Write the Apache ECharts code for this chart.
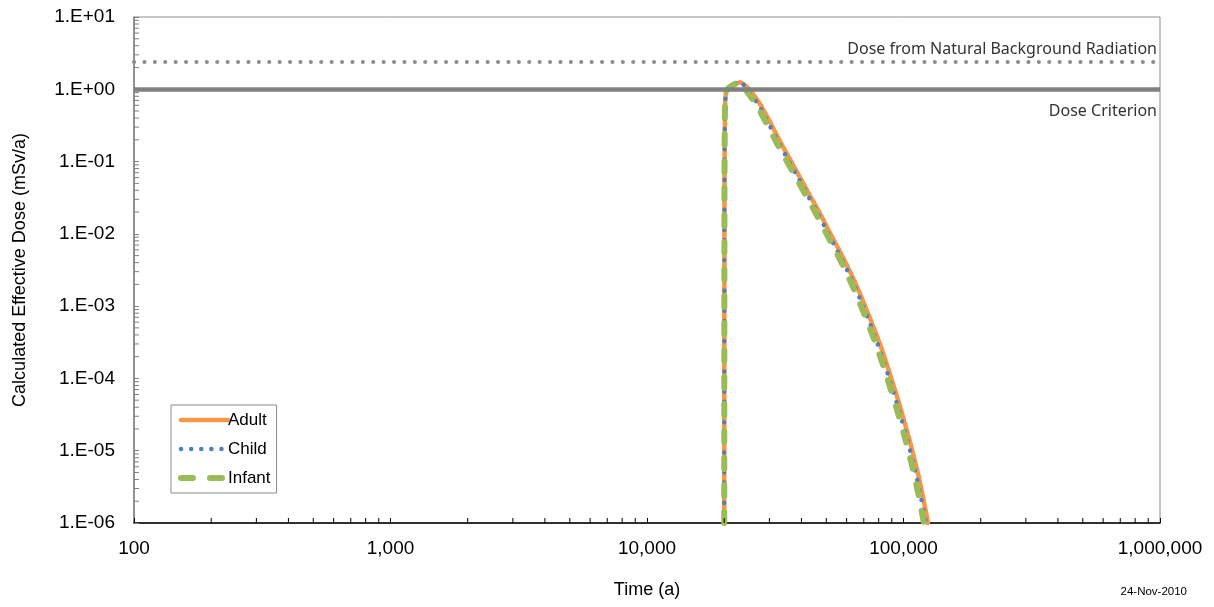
<!DOCTYPE html>
<html>
<head>
<meta charset="utf-8">
<script src="https://cdn.jsdelivr.net/npm/echarts@6/dist/echarts.min.js"></script>
<style>
  html, body { margin: 0; padding: 0; background: #fff; }
  #chart { width: 1214px; height: 607px; }
</style>
</head>
<body>
<div id="chart"></div>
<script>
// values
const adultTime = [20000, 20050, 20150, 20400, 21000, 22000, 23000, 25200, 27600, 30200, 33000, 36100, 39500, 43200, 47300, 51700, 56500, 61900, 67700, 74000, 81000, 88600, 96900, 106000, 113900, 120200, 124600]
const adultDose = [1e-6, 0.05, 0.6, 0.95, 1.05, 1.15, 1.25, 0.97, 0.62, 0.35, 0.19, 0.107, 0.06, 0.0337, 0.019, 0.0103, 0.0057, 0.00300, 0.00148, 6.8e-4, 2.97e-4, 1.14e-4, 4.1e-5, 1.33e-5, 4.8e-6, 1.96e-6, 1e-6]

const childTime = [20000, 20050, 20150, 20400, 21000, 22000, 23000, 24700, 27100, 29600, 32400, 35400, 38800, 42400, 46400, 50700, 55400, 60700, 66400, 72600, 79400, 86900, 95000, 104000, 111700, 117900, 122500]
const childDose = [1e-6, 0.05, 0.6, 0.95, 1.08, 1.2, 1.3, 0.97, 0.62, 0.35, 0.19, 0.107, 0.06, 0.0337, 0.019, 0.0103, 0.0057, 0.00300, 0.00148, 6.8e-4, 2.97e-4, 1.14e-4, 4.1e-5, 1.33e-5, 4.8e-6, 1.96e-6, 1e-6]

const infantTime = [20000, 20050, 20150, 20400, 21000, 22000, 22800, 24300, 26600, 29100, 31800, 34800, 38100, 41700, 45600, 49900, 54500, 59700, 65300, 71400, 78100, 85500, 93500, 102300, 109900, 116000, 120000]
const infantDose = [1e-6, 0.05, 0.6, 0.95, 1.07, 1.18, 1.28, 0.97, 0.62, 0.35, 0.19, 0.107, 0.06, 0.0337, 0.019, 0.0103, 0.0057, 0.00300, 0.00148, 6.8e-4, 2.97e-4, 1.14e-4, 4.1e-5, 1.33e-5, 4.8e-6, 1.96e-6, 1e-6]

const backgroundDose = 2.4
const doseCriterion = 1

// minor tick positions (2..9 in every decade)
const xMinorTicks = [200, 300, 400, 500, 600, 700, 800, 900, 2000, 3000, 4000, 5000, 6000, 7000, 8000, 9000, 20000, 30000, 40000, 50000, 60000, 70000, 80000, 90000, 200000, 300000, 400000, 500000, 600000, 700000, 800000, 900000]
const yMinorTicks = []
const yDecades = [1e-6, 1e-5, 1e-4, 1e-3, 1e-2, 1e-1, 1]
yDecades.forEach(function (d) {
  [2, 3, 4, 5, 6, 7, 8, 9].forEach(function (m) { yMinorTicks.push(m * d) })
})

function pairs (xs, ys) {
  return xs.map(function (x, i) { return [x, ys[i]] })
}

const axisFont = 'Liberation Sans, Arial, sans-serif'
const noMarker = { color: 'rgba(0,0,0,0)', borderWidth: 0 }

const chart = echarts.init(document.getElementById('chart'))

const option = {
  animation: false,
  grid: {
    left: 134,
    right: 54,
    top: 17,
    bottom: 84,
    show: true,
    borderColor: '#8c8c8c',
    borderWidth: 1
  },
  legend: {
    orient: 'vertical',
    left: 171,
    top: 405,
    data: [
      { name: 'Adult', itemStyle: noMarker, lineStyle: { color: '#F79646', width: 4.5, type: 'solid', cap: 'round' } },
      { name: 'Child', itemStyle: noMarker, lineStyle: { color: '#4F81BD', width: 4.5, type: [0.1, 10], cap: 'round' } },
      { name: 'Infant', itemStyle: noMarker, lineStyle: { color: '#9BBB59', width: 6, type: [12, 17], cap: 'round' } }
    ],
    itemWidth: 47,
    itemHeight: 14,
    itemGap: 9,
    padding: [5, 6, 5, 7],
    borderColor: '#8c8c8c',
    borderWidth: 1,
    backgroundColor: '#fff',
    textStyle: {
      fontFamily: axisFont,
      fontSize: 17,
      lineHeight: 20,
      color: '#000',
      padding: [0, 0, 0, -5]
    }
  },
  xAxis: {
    type: 'log',
    logBase: 10,
    min: 100,
    max: 1000000,
    name: 'Time (a)',
    nameLocation: 'middle',
    nameGap: 58,
    nameTextStyle: { fontFamily: axisFont, fontSize: 18, color: '#000' },
    axisLine: { lineStyle: { color: '#000', width: 1.5 } },
    axisTick: { inside: true, length: 5, lineStyle: { color: '#000' } },
    axisLabel: {
      fontFamily: axisFont,
      fontSize: 19,
      color: '#000',
      margin: 16,
      formatter: function (v) { return Math.round(v).toLocaleString('en-US') }
    },
    splitLine: { show: false }
  },
  yAxis: {
    type: 'log',
    logBase: 10,
    min: 1e-6,
    max: 10,
    splitNumber: 7,
    name: 'Calculated Effective Dose (mSv/a)',
    nameLocation: 'middle',
    nameGap: 105,
    nameTextStyle: { fontFamily: axisFont, fontSize: 18, color: '#000' },
    axisLine: { show: true, lineStyle: { color: '#7f7f7f', width: 1.5 } },
    axisTick: { show: true, inside: true, length: 5, lineStyle: { color: '#7f7f7f' } },
    axisLabel: {
      fontFamily: axisFont,
      fontSize: 19,
      color: '#000',
      margin: 19,
      formatter: function (v) {
        const e = Math.round(Math.log10(v))
        return '1.E' + (e < 0 ? '-' : '+') + String(Math.abs(e)).padStart(2, '0')
      }
    },
    splitLine: { show: false }
  },
  graphic: [{
    type: 'text',
    right: 27,
    top: 586,
    style: { text: '24-Nov-2010', fontFamily: axisFont, fontSize: 11.5, fill: '#000' }
  }],
  series: [
    {
      name: 'ref',
      type: 'line',
      data: [],
      z: 1,
      markLine: {
        silent: true,
        symbol: 'none',
        animation: false,
        data: [
          {
            yAxis: backgroundDose,
            lineStyle: { color: '#8c8c8c', width: 4, type: [0.1, 10.3], cap: 'round' },
            label: {
              position: 'insideEndTop',
              distance: [3, 4],
              formatter: 'Dose from Natural Background Radiation',
              fontFamily: 'Noto Sans, sans-serif',
              fontSize: 16,
              color: '#333'
            }
          },
          {
            yAxis: doseCriterion,
            lineStyle: { color: '#808080', width: 4.5, type: 'solid' },
            label: {
              position: 'insideEndBottom',
              distance: [3, 14],
              formatter: 'Dose Criterion',
              fontFamily: 'Noto Sans, sans-serif',
              fontSize: 16,
              color: '#333'
            }
          }
        ]
      }
    },
    {
      name: 'minor',
      type: 'custom',
      z: 3,
      silent: true,
      data: xMinorTicks.map(function (v) { return [v, 1e-6] }),
      renderItem: function (params, api) {
        const p = api.coord([api.value(0), api.value(1)])
        return { type: 'line', shape: { x1: p[0], y1: p[1], x2: p[0], y2: p[1] - 5 }, style: { stroke: '#000', lineWidth: 1 } }
      }
    },
    {
      name: 'minorY',
      type: 'custom',
      z: 3,
      silent: true,
      data: yMinorTicks.map(function (v) { return [100, v] }),
      renderItem: function (params, api) {
        const p = api.coord([api.value(0), api.value(1)])
        return { type: 'line', shape: { x1: p[0], y1: p[1], x2: p[0] + 5, y2: p[1] }, style: { stroke: '#7f7f7f', lineWidth: 1 } }
      }
    },
    {
      name: 'Adult',
      type: 'line',
      z: 2,
      data: pairs(adultTime, adultDose),
      symbol: 'none',
      smooth: 0.2,
      color: '#F79646',
      lineStyle: { color: '#F79646', width: 4.5, cap: 'round', join: 'round' }
    },
    {
      name: 'Child',
      type: 'line',
      z: 2,
      data: pairs(childTime, childDose),
      symbol: 'none',
      smooth: 0.2,
      color: '#4F81BD',
      lineStyle: { color: '#4F81BD', width: 4.5, type: [0.1, 10], cap: 'round' }
    },
    {
      name: 'Infant',
      type: 'line',
      z: 2,
      data: pairs(infantTime, infantDose),
      symbol: 'none',
      smooth: 0.2,
      color: '#9BBB59',
      lineStyle: { color: '#9BBB59', width: 6, type: [11, 16], cap: 'round' }
    }
  ]
}

chart.setOption(option)
window.addEventListener('resize', chart.resize)
</script>
</body>
</html>
